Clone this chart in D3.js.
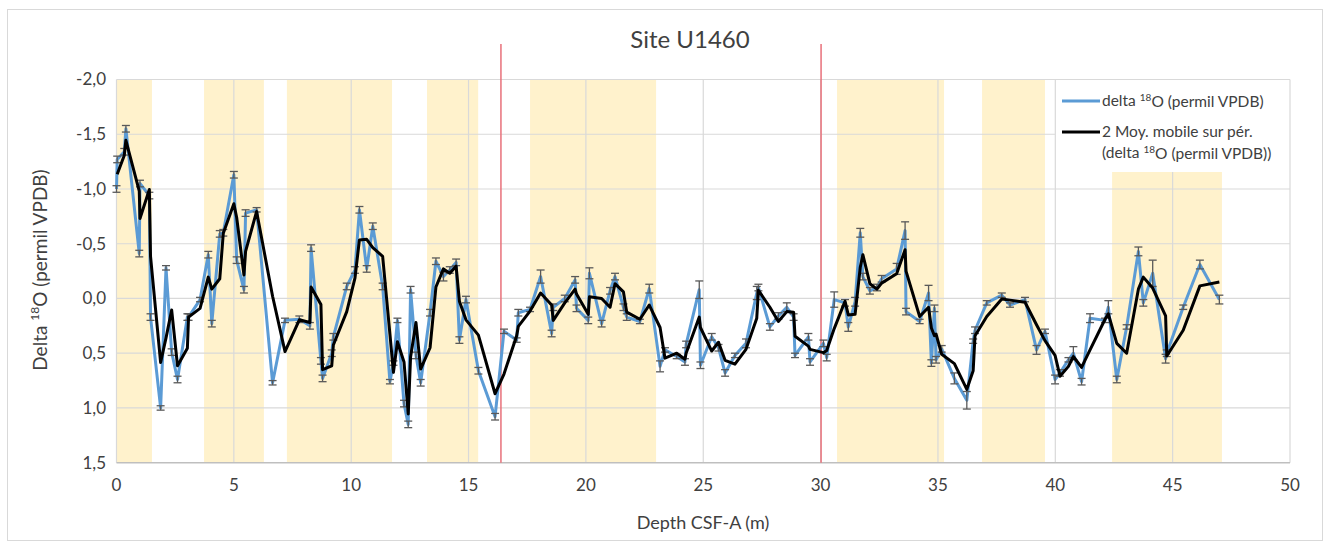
<!DOCTYPE html>
<html><head><meta charset="utf-8">
<script src="https://cdn.jsdelivr.net/npm/d3@7"></script>
<style>body{margin:0;background:#fff}svg{display:block}text{font-family:Lato,"Open Sans",sans-serif;fill:#404040}</style>
</head><body><svg id="c" width="1330" height="548"></svg>
<script>
// ---- data ----
const depth = [0.00,0.03,0.33,0.40,0.97,1.00,1.40,1.45,1.88,2.11,2.35,2.60,3.02,3.07,3.56,3.91,4.06,4.40,4.55,5.00,5.12,5.43,5.50,5.97,6.65,7.18,7.79,8.24,8.29,8.71,8.78,9.17,9.24,9.81,10.16,10.35,10.66,10.92,11.34,11.65,11.80,11.97,12.25,12.43,12.53,12.76,12.96,13.36,13.61,13.93,14.20,14.47,14.61,14.89,15.42,16.13,16.51,17.05,17.12,17.62,18.07,18.54,18.61,19.10,19.54,19.60,20.10,20.15,20.67,21.03,21.24,21.60,21.74,22.30,22.70,23.16,23.37,23.87,24.22,24.27,24.83,24.88,25.36,25.65,25.93,26.35,26.82,27.28,27.35,27.84,28.20,28.56,28.85,28.91,29.48,29.55,30.12,30.26,30.58,31.04,31.18,31.47,31.69,31.80,32.10,32.40,32.60,33.24,33.60,33.64,34.22,34.60,34.72,34.85,34.92,35.16,35.70,36.23,36.50,36.58,37.08,37.72,38.07,38.71,39.20,39.56,39.99,40.20,40.56,40.77,41.12,41.48,42.12,42.26,42.62,43.04,43.54,43.75,44.15,44.70,44.75,45.45,46.16,46.99];
const d18O = [-1.00,-1.27,-1.34,-1.55,-0.41,-1.05,-0.94,0.17,1.00,-0.28,0.49,0.74,0.17,0.17,0.01,-0.40,0.23,-0.59,-0.60,-1.13,-0.35,-0.08,-0.78,-0.81,0.77,0.20,0.19,0.25,-0.46,0.57,0.73,0.50,0.35,-0.11,-0.26,-0.81,-0.27,-0.66,-0.11,0.76,0.59,0.20,0.96,1.15,-0.08,0.52,0.77,0.13,-0.34,-0.20,-0.26,-0.33,0.38,0.01,0.66,1.08,0.30,0.38,0.13,0.10,-0.20,0.32,0.08,0.00,-0.17,0.09,0.20,-0.23,0.23,-0.07,-0.20,0.08,0.17,0.21,-0.09,0.62,0.47,0.53,0.58,0.42,-0.08,0.61,0.35,0.45,0.68,0.52,0.41,-0.05,-0.10,0.26,0.16,0.08,0.17,0.52,0.35,0.58,0.41,0.54,0.01,0.04,0.26,0.03,-0.60,-0.20,-0.07,-0.10,-0.18,-0.27,-0.62,0.12,0.21,-0.05,0.59,0.09,0.56,0.46,0.73,0.93,0.39,0.29,0.04,-0.03,0.06,0.01,0.47,0.30,0.74,0.68,0.56,0.50,0.76,0.18,0.20,0.08,0.74,0.26,-0.43,0.04,-0.23,0.55,0.50,0.08,-0.31,0.01];
const errBar = [0.03,0.03,0.03,0.03,0.03,0.03,0.03,0.03,0.02,0.02,0.03,0.03,0.03,0.03,0.02,0.03,0.03,0.03,0.03,0.03,0.03,0.03,0.03,0.02,0.02,0.02,0.03,0.03,0.03,0.03,0.03,0.03,0.03,0.03,0.03,0.03,0.03,0.03,0.03,0.02,0.02,0.02,0.03,0.03,0.03,0.03,0.03,0.03,0.03,0.04,0.03,0.03,0.03,0.03,0.03,0.03,0.02,0.02,0.03,0.02,0.06,0.03,0.03,0.03,0.03,0.03,0.03,0.05,0.03,0.03,0.03,0.03,0.03,0.02,0.04,0.05,0.02,0.02,0.03,0.03,0.08,0.03,0.03,0.03,0.03,0.02,0.04,0.06,0.03,0.03,0.03,0.04,0.03,0.02,0.03,0.03,0.03,0.03,0.07,0.03,0.04,0.04,0.04,0.03,0.03,0.03,0.03,0.05,0.08,0.03,0.02,0.07,0.03,0.03,0.03,0.03,0.05,0.08,0.02,0.03,0.02,0.02,0.02,0.02,0.04,0.02,0.04,0.03,0.02,0.06,0.03,0.04,0.02,0.06,0.03,0.02,0.04,0.03,0.12,0.04,0.03,0.02,0.04,0.04];
const bandStart = [0, 3.73, 7.26, 13.23, 17.62, 30.70, 36.88, 42.42];
const bandEnd   = [1.51, 6.28, 11.74, 15.41, 22.99, 35.26, 39.56, 47.10];
const redLines = [16.38, 30.02];
const xTicks = [0,5,10,15,20,25,30,35,40,45,50];
const yTicks = [-2,-1.5,-1,-0.5,0,0.5,1,1.5];
const chartTitle = "Site U1460";
const xTitle = "Depth CSF-A (m)";
const legendLabels = ["delta ", "2 Moy. mobile sur pér."];

// ---- drawing ----
const svg = d3.select("#c");
const x = d3.scaleLinear().domain([0,50]).range([116.5,1290]);
const y = d3.scaleLinear().domain([-2,1.5]).range([79.5,462.7]);

svg.append("rect").attr("x",7.5).attr("y",9.5).attr("width",1315).attr("height",531)
  .attr("fill","#fff").attr("stroke","#d9d9d9");

// bands
svg.append("g").selectAll("rect").data(d3.range(bandStart.length)).join("rect")
  .attr("x",i=>x(bandStart[i])).attr("width",i=>x(bandEnd[i])-x(bandStart[i]))
  .attr("y",y(-2)).attr("height",y(1.5)-y(-2)).attr("fill","#fff2cc");

// legend background (covers part of the plot, under the top gridline)
svg.append("rect").attr("x",1057).attr("y",79).attr("width",228).attr("height",93).attr("fill","#fff");

// gridlines
const grid = svg.append("g").attr("stroke","#d9d9d9").attr("stroke-width",1.2);
grid.selectAll(".h").data(yTicks.slice(0,-1)).join("line")
  .attr("x1",x(0)).attr("x2",d=>d===-2?x(50):x(40)).attr("y1",d=>y(d)).attr("y2",d=>y(d));
grid.selectAll(".h2").data(yTicks.slice(0,-1).filter(d=>y(d)>172)).join("line")
  .attr("x1",x(40)).attr("x2",x(50)).attr("y1",d=>y(d)).attr("y2",d=>y(d));
grid.selectAll(".v").data(xTicks).join("line")
  .attr("y1",d=>d===45?172:y(-2)).attr("y2",y(1.5)).attr("x1",d=>x(d)).attr("x2",d=>x(d));
// x axis line
svg.append("line").attr("x1",x(0)).attr("x2",x(50)).attr("y1",y(1.5)).attr("y2",y(1.5))
  .attr("stroke","#bfbfbf").attr("stroke-width",1.5);

// red lines
svg.append("g").selectAll("line").data(redLines).join("line")
  .attr("x1",d=>x(d)).attr("x2",d=>x(d)).attr("y1",44).attr("y2",y(1.5))
  .attr("stroke","#e8707a").attr("stroke-width",1.5);

const pts = depth.map((d,i)=>({x:d,y:d18O[i],e:errBar[i]}));
// 2-period moving average trendline of the plotted series (as in the chart)
const ma = d3.pairs(pts).map(([a,b])=>({x:b.x,y:(a.y+b.y)/2}));

const line = d3.line().x(d=>x(d.x)).y(d=>y(d.y));
svg.append("path").datum(pts).attr("d",line).attr("fill","none")
  .attr("stroke","#5b9bd5").attr("stroke-width",3).attr("stroke-linejoin","round");

const eb = svg.append("g").attr("stroke","#595959").attr("stroke-width",1.3);
pts.forEach(p=>{
  eb.append("line").attr("x1",x(p.x)).attr("x2",x(p.x)).attr("y1",y(p.y-p.e)).attr("y2",y(p.y+p.e));
  [p.y-p.e,p.y+p.e].forEach(v=>eb.append("line").attr("x1",x(p.x)-4).attr("x2",x(p.x)+4).attr("y1",y(v)).attr("y2",y(v)));
});

svg.append("path").datum(ma).attr("d",line).attr("fill","none")
  .attr("stroke","#000").attr("stroke-width",3).attr("stroke-linejoin","round");

// axes labels
svg.append("g").selectAll("text").data(yTicks).join("text")
  .attr("x",106).attr("y",d=>y(d)).attr("dy","0.35em").attr("text-anchor","end")
  .attr("font-size",17).text(d=>d3.format(".1f")(d).replace(".",",").replace("−","-"));
svg.append("g").selectAll("text").data(xTicks).join("text")
  .attr("x",d=>x(d)).attr("y",485).attr("dy","0.35em").attr("text-anchor","middle")
  .attr("font-size",17).text(d=>d);

svg.append("text").attr("x",690).attr("y",40).attr("dy","0.35em").attr("text-anchor","middle")
  .attr("font-size",24).text(chartTitle);
svg.append("text").attr("x",703).attr("y",523).attr("dy","0.35em").attr("text-anchor","middle")
  .attr("font-size",18).text(xTitle);

const yt = svg.append("text").attr("transform","translate(40,270) rotate(-90)")
  .attr("text-anchor","middle").attr("dy","0.35em").attr("font-size",19);
yt.append("tspan").text("Delta ");
yt.append("tspan").attr("font-size",12).attr("dy","-0.6em").text("18");
yt.append("tspan").attr("dy","0.38em").text("O (permil VPDB)");

// legend
const lg = svg.append("g");
lg.append("line").attr("x1",1062).attr("x2",1100).attr("y1",101).attr("y2",101).attr("stroke","#5b9bd5").attr("stroke-width",3);
lg.append("line").attr("x1",1062).attr("x2",1100).attr("y1",132).attr("y2",132).attr("stroke","#000").attr("stroke-width",3);
function supText(g, xx, yy, pre, post){
  const t = g.append("text").attr("x",xx).attr("y",yy).attr("dy","0.35em").attr("font-size",15.5);
  t.append("tspan").text(pre);
  t.append("tspan").attr("font-size",10).attr("dy","-0.5em").text("18");
  t.append("tspan").attr("dy","0.33em").text(post);
}
supText(lg,1102,101,legendLabels[0],"O (permil VPDB)");
lg.append("text").attr("x",1102).attr("y",132).attr("dy","0.35em").attr("font-size",15.5).text(legendLabels[1]);
supText(lg,1102,153,"(delta ","O (permil VPDB))");
</script></body></html>
